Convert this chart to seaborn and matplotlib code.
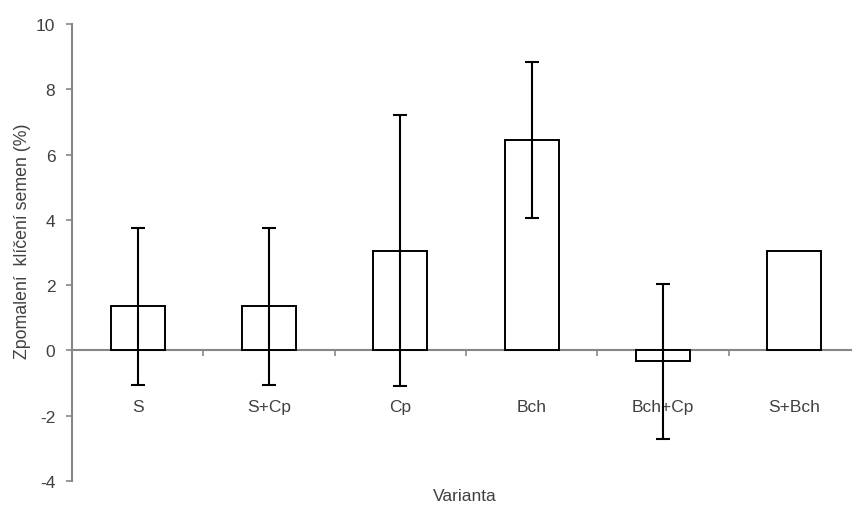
import matplotlib
matplotlib.use("Agg")
import matplotlib.pyplot as plt
import seaborn as sns
import numpy as np
import pandas as pd

categories = ["S", "S+Cp", "Cp", "Bch", "Bch+Cp", "S+Bch"]
values = [1.35, 1.35, 3.05, 6.45, -0.33, 3.05]
errors = [2.4, 2.4, 4.15, 2.4, 2.38, 0.0]
yticks = [-4, -2, 0, 2, 4, 6, 8, 10]

sns.set_theme(style="white")
plt.rcParams['font.family'] = ['Liberation Sans', 'DejaVu Sans']

fig = plt.figure(figsize=(8.52, 5.06), dpi=100)
W, H = 852, 506
left, right, top, bottom = 72, 852, 25, 482
ax = fig.add_axes([left / W, 1 - bottom / H, (right - left) / W, (bottom - top) / H])

df = pd.DataFrame({"Varianta": categories, "val": values})
sns.barplot(data=df, x="Varianta", y="val", ax=ax, color="white", edgecolor="black",
            linewidth=1.4, width=0.41, errorbar=None, zorder=2)

idx = [i for i, e in enumerate(errors) if e > 0]
ax.errorbar(x=idx, y=[values[i] for i in idx], yerr=[errors[i] for i in idx], fmt="none",
            ecolor="black", elinewidth=1.5, capsize=5, capthick=1.5, zorder=3)

ax.set_ylim(-4, 10)
ax.set_xlim(-0.5, 5.44)
ax.set_yticks(yticks)
ax.set_yticklabels([str(t) for t in yticks])

gray = "#868686"
txt = "#404040"
for s in ["top", "right"]:
    ax.spines[s].set_visible(False)
ax.spines["bottom"].set_position(("data", 0))
ax.spines["bottom"].set_color(gray)
ax.spines["bottom"].set_linewidth(1.5)
ax.spines["bottom"].set_zorder(1)
ax.spines["left"].set_color(gray)
ax.spines["left"].set_linewidth(1.5)

ax.set_xticks(np.arange(len(categories)))
ax.set_xticklabels(categories)
ax.set_xticks(np.arange(len(categories)) - 0.5, minor=True)
ax.tick_params(axis="x", which="major", length=0, pad=35, labelsize=12.5, labelcolor=txt)
ax.tick_params(axis="x", which="minor", length=4, width=1.2, color=gray, direction="out", bottom=True)
ax.tick_params(axis="y", which="major", length=4, width=1.2, color=gray, direction="out",
               left=True, pad=8, labelsize=12.5, labelcolor=txt)

ax.set_xlabel("Varianta", fontsize=12.5, color=txt)
ax.xaxis.set_label_coords(0.504, -0.015)
ax.set_ylabel("Zpomalení  klíčení semen (%)", fontsize=12.8, color=txt)
ax.yaxis.set_label_coords(-0.053, 0.527)

fig.savefig("out.png", dpi=100)
